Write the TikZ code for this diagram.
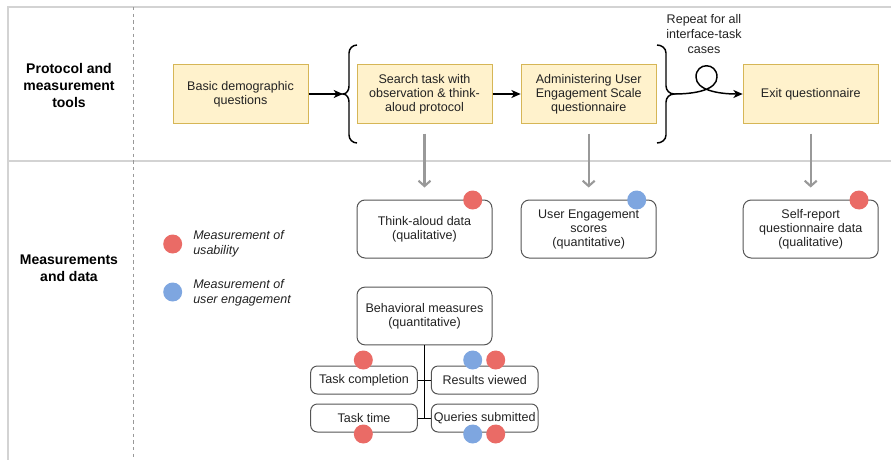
\documentclass[tikz,border=0pt]{standalone}
\usepackage{fontspec}
\setmainfont{Liberation Sans}
\usetikzlibrary{arrows.meta}
\definecolor{yfill}{HTML}{FFF2CC}
\definecolor{ydraw}{HTML}{D6B656}
\definecolor{redd}{HTML}{EA6B66}
\definecolor{blued}{HTML}{7EA6E0}
\definecolor{frameg}{HTML}{D3D3D3}
\definecolor{arrg}{HTML}{999999}
\definecolor{txt}{HTML}{222222}
\definecolor{rbd}{HTML}{555555}
\tikzset{
  base/.style={align=center,inner sep=0pt,text=txt,font=\fontsize{9.4}{10.5}\selectfont},
  ybox/.style={base,draw=ydraw,fill=yfill,line width=0.75pt,minimum width=101.25pt,minimum height=43.5pt},
  rbox/.style={base,draw=rbd,rounded corners=6pt,line width=0.75pt,minimum width=101.25pt,minimum height=43.5pt},
  sbox/.style={base,draw=rbd,rounded corners=5pt,line width=0.75pt,minimum width=80pt,minimum height=21pt},
  dotr/.style={circle,fill=redd,inner sep=0pt,minimum size=14.25pt},
  dotb/.style={circle,fill=blued,inner sep=0pt,minimum size=14.25pt},
  lane/.style={align=center,inner sep=0pt,font=\fontsize{10.5}{12.75}\selectfont\bfseries},
  leg/.style={align=left,anchor=west,inner sep=0pt,text=txt,font=\fontsize{9.4}{10.9}\selectfont\itshape},
  flow/.style={line width=1.1pt,-{Stealth[length=7pt,width=6pt,inset=2pt]}},
  garrow/.style={line width=1.6pt,draw=arrg,-{Straight Barb[length=4pt,width=9pt]},shorten <=7.5pt,shorten >=9pt},
  tree/.style={line width=0.75pt,draw=black},
  brace/.style={line width=1.1pt}
}
\begin{document}
\begin{tikzpicture}[x=0.75pt,y=-0.75pt]
\useasboundingbox (0,0) rectangle (891,460);
% frame
\draw[frameg,line width=1.5pt] (891,7) -- (8,7) -- (8,460);
\draw[frameg,line width=1.5pt] (8,161) -- (891,161);
\draw[arrg,line width=0.75pt,dash pattern=on 2.5pt off 2.5pt] (133,7) -- (133,460);
% lane labels
\node[lane] (lane1) at (69,85) {Protocol and\\measurement\\tools};
\node[lane] (lane2) at (69,268.5) {Measurements\\and data};
% top row
\node[ybox] (basic) at (240.5,94) {Basic demographic\\questions};
\node[ybox] (search) at (424.5,94) {Search task with\\observation \& think-\\aloud protocol};
\node[ybox] (admin) at (588.7,94) {Administering User\\Engagement Scale\\questionnaire};
\node[ybox] (exit) at (810.7,94) {Exit questionnaire};
% braces
\coordinate (lbtip) at (343,94);
\coordinate (rbtip) at (674,94);
\draw[brace] (357,45) to[out=180,in=90] (349,53) -- (349,86) to[out=-90,in=0] (lbtip)
  to[out=0,in=90] (349,102) -- (349,135) to[out=-90,in=180] (357,143);
\draw[brace] (657,45) to[out=0,in=90] (666,53) -- (666,86) to[out=-90,in=180] (rbtip)
  to[out=180,in=90] (666,102) -- (666,135) to[out=-90,in=0] (657,143);
% arrows
\draw[flow] (basic.east) -- (lbtip);
\draw[flow] (search.east) -- (admin.west);
\draw[flow] (rbtip) .. controls (695,94) and (717,90) .. (717,77)
  .. controls (717,62) and (696,62) .. (696,77)
  .. controls (696,90) and (718,94) .. (exit.west);
\node[base,font=\fontsize{9.4}{10.9}\selectfont] (repeat) at (704,34) {Repeat for all\\interface-task\\cases};
% bottom row
\node[rbox] (think) at (424.5,229) {Think-aloud data\\(qualitative)};
\node[rbox] (ues) at (588.7,229) {User Engagement\\scores\\(quantitative)};
\node[rbox] (self) at (810.7,229) {Self-report\\questionnaire data\\(qualitative)};
\draw[garrow] (search) -- (think);
\draw[garrow] (admin) -- (ues);
\draw[garrow] (exit) -- (self);
\node[dotr] (d1) at (472.7,200) {};
\node[dotb] (d2) at (636.7,200) {};
\node[dotr] (d3) at (859,200) {};
% legend
\node[dotr] (lr) at (172.7,244) {};
\node[leg] (lrt) at (193,244) {Measurement of\\usability};
\node[dotb] (lb) at (172.7,292) {};
\node[leg] (lbt) at (193,292.5) {Measurement of\\user engagement};
% behavioral
\node[rbox,minimum height=43.3pt] (beh) at (424.5,316) {Behavioral measures\\(quantitative)};
\node[sbox] (tc) at (364,380) {Task completion};
\node[sbox] (rv) at (484.7,380) {Results viewed};
\node[sbox] (tt) at (364,418) {Task time};
\node[sbox] (qs) at (484.7,418) {Queries submitted};
\draw[tree] (beh.south) -- (beh.south |- tt.east);
\draw[tree] (tc.east) -- (rv.west);
\draw[tree] (tt.east) -- (qs.west);
\node[dotr] (d4) at (363.3,360) {};
\node[dotb] (d5) at (472.7,360) {};
\node[dotr] (d6) at (495.7,360) {};
\node[dotr] (d7) at (363.3,434) {};
\node[dotb] (d8) at (472.7,434) {};
\node[dotr] (d9) at (495.7,434) {};
\end{tikzpicture}
\end{document}
